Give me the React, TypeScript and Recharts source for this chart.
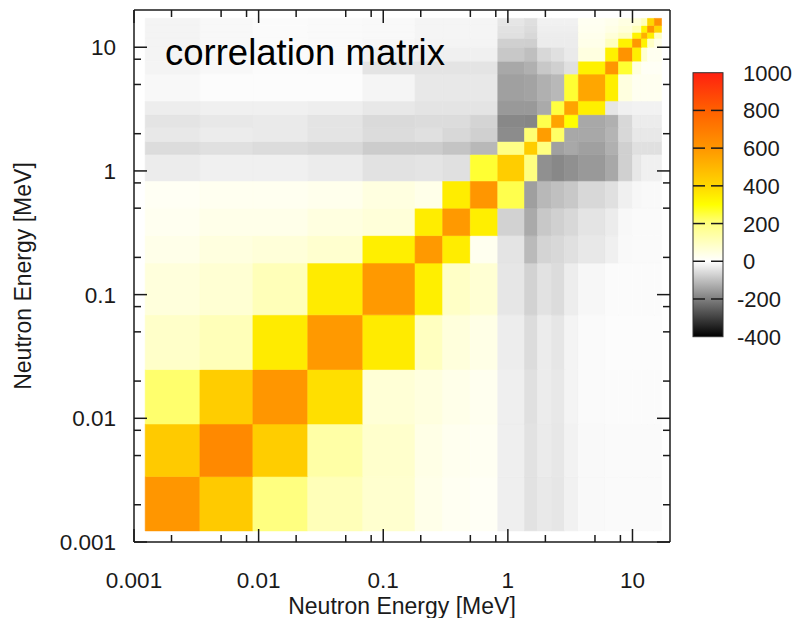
import React from "react";
import { ComposedChart, XAxis, YAxis, ReferenceArea, Scatter } from "recharts";

// energy group boundaries [MeV], same groups on both axes
const groupEdges = [
  0.00123, 0.00338, 0.009, 0.0248, 0.0686, 0.18, 0.3, 0.5, 0.83, 1.36, 1.73,
  2.24, 2.85, 3.68, 6.07, 7.72, 10, 11.8, 13.2, 15, 17.1,
];

// correlation (x1000), row = y group (low -> high energy), column = x group
const correlation: number[][] = [
  [600, 440, 200, 110, 75, 35, 20, 15, -25, -45, -35, -40, -22, -10, -8, -8, -8, -8, -8, -8],
  [440, 650, 430, 140, 80, 40, 25, 20, -25, -45, -32, -38, -20, -10, -8, -8, -8, -8, -8, -8],
  [215, 430, 600, 380, 65, 50, 35, 25, -25, -48, -30, -36, -18, -8, -6, -6, -6, -6, -6, -6],
  [85, 110, 350, 590, 350, 100, 55, 40, -28, -55, -30, -40, -18, -8, -5, -5, -5, -5, -5, -5],
  [55, 70, 110, 350, 590, 340, 90, 70, -40, -70, -45, -55, -28, -12, -6, -6, -6, -6, -6, -6],
  [35, 50, 60, 75, 340, 590, 345, 25, -42, -108, -68, -61, -49, -36, -24, -10, -8, -8, -8, -8],
  [24, 35, 35, 49, 60, 345, 590, 340, -70, -133, -86, -74, -61, -42, -30, -11, -8, -8, -8, -8],
  [18, 24, 24, 30, 49, 35, 345, 600, 240, -150, -111, -99, -86, -61, -49, -24, -12, -10, -10, -10],
  [-30, -24, -24, -30, -45, -42, -49, 260, 430, 200, -174, -187, -174, -160, -136, -74, -36, -24, -24, -24],
  [-55, -49, -55, -61, -80, -80, -92, -111, 190, 430, 200, -149, -136, -149, -124, -74, -49, -49, -49, -49],
  [-36, -30, -33, -42, -55, -49, -61, -74, -180, 210, 580, 220, -136, -136, -118, -61, -36, -36, -36, -36],
  [-42, -36, -33, -42, -58, -55, -55, -68, -187, -190, 240, 560, 300, -136, -124, -61, -30, -30, -30, -30],
  [-29, -24, -24, -27, -36, -42, -42, -42, -160, -160, -133, 250, 560, 340, -40, -24, -20, -20, -20, -20],
  [-11, -4, -4, -4, -15, -36, -36, -36, -149, -145, -124, -111, 260, 550, 340, 50, 24, 24, 24, 24],
  [-17, -11, -6, -8, -42, -42, -42, -42, -136, -124, -86, -74, -49, 335, 600, 262, 50, 15, 15, 15],
  [-17, -11, -6, -8, -20, -24, -24, -24, -86, -100, -61, -49, -33, 49, 335, 610, 340, 74, 24, 24],
  [-17, -11, -6, -8, -12, -18, -18, -18, -74, -75, -30, -30, -30, 35, 99, 330, 590, 330, 90, 40],
  [-17, -11, -6, -8, -10, -15, -15, -15, -49, -61, -28, -28, -28, 30, 60, 99, 330, 520, 340, 100],
  [-17, -11, -6, -8, -10, -15, -15, -15, -45, -55, -25, -25, -25, 24, 40, 60, 110, 330, 600, 400],
  [-17, -11, -6, -8, -10, -15, -15, -15, -40, -50, -22, -22, -22, 20, 30, 45, 60, 110, 400, 620],
];

const majorTicks = [0.001, 0.01, 0.1, 1, 10];
const majorLabels = ["0.001", "0.01", "0.1", "1", "10"];
const minorTicks = [0.002, 0.005, 0.008, 0.02, 0.05, 0.08, 0.2, 0.5, 0.8, 2, 5, 8];
const colorbarTicks = [1000, 800, 600, 400, 200, 0, -200, -400];

const FONT = "'Liberation Sans', Arial, Helvetica, sans-serif";
const INK = "#1a1a1a";
const DOMAIN: [number, number] = [0.001, 20];
const LABEL_SIZE = 22.5;

const colorStops: { v: number; c: number[] }[] = [
  { v: -400, c: [0, 0, 0] },
  { v: 0, c: [255, 255, 255] },
  { v: 200, c: [255, 255, 128] },
  { v: 300, c: [255, 255, 0] },
  { v: 400, c: [255, 215, 0] },
  { v: 600, c: [255, 150, 0] },
  { v: 800, c: [255, 96, 0] },
  { v: 1000, c: [255, 32, 16] },
];

function heatColor(v: number) {
  const s = colorStops;
  if (v <= s[0].v) return `rgb(${s[0].c.join(",")})`;
  for (let i = 1; i < s.length; i++) {
    if (v <= s[i].v) {
      const t = (v - s[i - 1].v) / (s[i].v - s[i - 1].v);
      const c = s[i - 1].c.map((a, k) => Math.round(a + (s[i].c[k] - a) * t));
      return `rgb(${c.join(",")})`;
    }
  }
  return `rgb(${s[s.length - 1].c.join(",")})`;
}

const allTicks = [...majorTicks, ...minorTicks].sort((a, b) => a - b);

const cells = correlation.flatMap((row, r) =>
  row.map((v, c) => ({
    x1: groupEdges[c],
    x2: groupEdges[c + 1],
    y1: groupEdges[r],
    y2: groupEdges[r + 1],
    v,
  }))
);

const centers = groupEdges.slice(0, -1).map((e, i) => {
  const m = Math.sqrt(e * groupEdges[i + 1]);
  return { x: m, y: m };
});

const isMajor = (v: number) => majorTicks.indexOf(v);

function BottomTick({ x, y, payload }: any) {
  const i = isMajor(payload.value);
  return (
    <g>
      <line x1={x} x2={x} y1={y} y2={y - (i >= 0 ? 13 : 7)} stroke={INK} strokeWidth={1.5} />
      {i >= 0 && (
        <text x={x} y={y + 46} textAnchor="middle" fontSize={LABEL_SIZE} fontFamily={FONT} fill={INK}>
          {majorLabels[i]}
        </text>
      )}
    </g>
  );
}

function TopTick({ x, y, payload }: any) {
  const i = isMajor(payload.value);
  return <line x1={x} x2={x} y1={y} y2={y + (i >= 0 ? 13 : 7)} stroke={INK} strokeWidth={1.5} />;
}

function LeftTick({ x, y, payload }: any) {
  const i = isMajor(payload.value);
  return (
    <g>
      <line x1={x} x2={x + (i >= 0 ? 13 : 7)} y1={y} y2={y} stroke={INK} strokeWidth={1.5} />
      {i >= 0 && (
        <text x={x - 18} y={y + 8} textAnchor="end" fontSize={LABEL_SIZE} fontFamily={FONT} fill={INK}>
          {majorLabels[i]}
        </text>
      )}
    </g>
  );
}

function RightTick({ x, y, payload }: any) {
  const i = isMajor(payload.value);
  return <line x1={x} x2={x - (i >= 0 ? 13 : 7)} y1={y} y2={y} stroke={INK} strokeWidth={1.5} />;
}

// colour bar geometry
const BAR = { x: 693, w: 30, top: 72.7, bottom: 336.7 };
const barY = (v: number) => BAR.bottom - ((v + 400) / 1400) * (BAR.bottom - BAR.top);

function ColorBar() {
  return (
    <g>
      <defs>
        <linearGradient id="heat" x1="0" y1="0" x2="0" y2="1">
          {colorStops
            .slice()
            .reverse()
            .map((s) => (
              <stop key={s.v} offset={(1000 - s.v) / 1400} stopColor={`rgb(${s.c.join(",")})`} />
            ))}
        </linearGradient>
      </defs>
      <rect x={BAR.x} y={BAR.top} width={BAR.w} height={BAR.bottom - BAR.top} fill="url(#heat)" stroke="#333" strokeWidth={1} />
      {colorbarTicks.map((t) => (
        <g key={t}>
          {t !== 1000 && t !== -400 && (
            <>
              <line x1={BAR.x} x2={BAR.x + 12} y1={barY(t)} y2={barY(t)} stroke={INK} strokeWidth={1.5} />
              <line x1={BAR.x + BAR.w - 12} x2={BAR.x + BAR.w} y1={barY(t)} y2={barY(t)} stroke={INK} strokeWidth={1.5} />
            </>
          )}
          <text x={t < 0 ? 737 : 743} y={barY(t) + 8} fontSize={22} fontFamily={FONT} fill={INK}>
            {t}
          </text>
        </g>
      ))}
    </g>
  );
}

export default function App() {
  return (
    <div style={{ position: "absolute", left: 0, top: 0, width: 808, height: 618, background: "#fff" }}>
      <ComposedChart width={808} height={618} margin={{ top: 0, right: 128, bottom: 0, left: 0 }}>
        <XAxis
          xAxisId="b"
          dataKey="x"
          type="number"
          scale="log"
          domain={DOMAIN}
          allowDataOverflow
          ticks={allTicks}
          interval={0}
          height={76}
          tickSize={0}
          tickMargin={0}
          tickLine={false}
          axisLine={{ stroke: INK, strokeWidth: 1.5 }}
          tick={<BottomTick />}
        />
        <XAxis
          xAxisId="t"
          orientation="top"
          dataKey="x"
          type="number"
          scale="log"
          domain={DOMAIN}
          allowDataOverflow
          ticks={allTicks}
          interval={0}
          height={10}
          tickSize={0}
          tickMargin={0}
          tickLine={false}
          axisLine={{ stroke: INK, strokeWidth: 1.5 }}
          tick={<TopTick />}
        />
        <YAxis
          yAxisId="l"
          dataKey="y"
          type="number"
          scale="log"
          domain={DOMAIN}
          allowDataOverflow
          ticks={allTicks}
          interval={0}
          width={134}
          tickSize={0}
          tickMargin={0}
          tickLine={false}
          axisLine={{ stroke: INK, strokeWidth: 1.5 }}
          tick={<LeftTick />}
        />
        <YAxis
          yAxisId="r"
          orientation="right"
          dataKey="y"
          type="number"
          scale="log"
          domain={DOMAIN}
          allowDataOverflow
          ticks={allTicks}
          interval={0}
          width={10}
          tickSize={0}
          tickMargin={0}
          tickLine={false}
          axisLine={{ stroke: INK, strokeWidth: 1.5 }}
          tick={<RightTick />}
        />
        {cells.map((c, i) => (
          <ReferenceArea
            key={i}
            xAxisId="b"
            yAxisId="l"
            x1={c.x1}
            x2={c.x2}
            y1={c.y1}
            y2={c.y2}
            fill={heatColor(c.v)}
            fillOpacity={1}
            stroke={heatColor(c.v)}
            strokeWidth={0.6}
            ifOverflow="visible"
          />
        ))}
        <Scatter xAxisId="b" yAxisId="l" data={centers} fill="none" isAnimationActive={false} shape={() => <g />} />
        <Scatter xAxisId="t" yAxisId="r" data={centers} fill="none" isAnimationActive={false} shape={() => <g />} />
      </ComposedChart>
      <svg width={808} height={618} style={{ position: "absolute", left: 0, top: 0, pointerEvents: "none" }}>
        <text x={165} y={65} fontSize={36.5} fontFamily={FONT} fill="#000">
          correlation matrix
        </text>
        <text x={402} y={614} textAnchor="middle" fontSize={23} fontFamily={FONT} fill={INK}>
          Neutron Energy [MeV]
        </text>
        <text
          x={31}
          y={276}
          textAnchor="middle"
          fontSize={23}
          fontFamily={FONT}
          fill={INK}
          transform="rotate(-90 31 276)"
        >
          Neutron Energy [MeV]
        </text>
        <ColorBar />
      </svg>
    </div>
  );
}
